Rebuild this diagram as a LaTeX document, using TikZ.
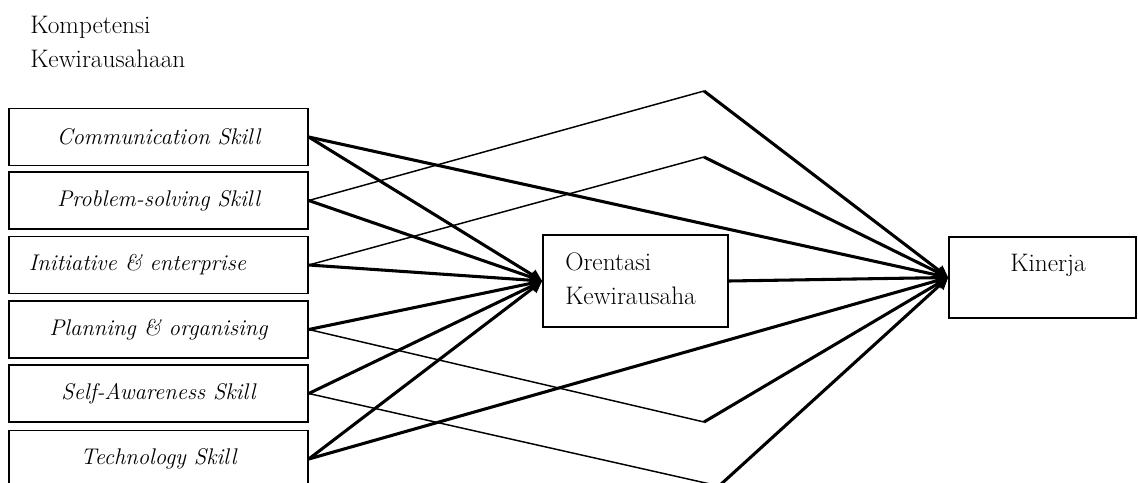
\documentclass[tikz,border=0pt]{standalone}
\usetikzlibrary{arrows.meta}
\begin{document}
\begin{tikzpicture}[x=0.75pt,y=-0.75pt,
  txt/.style={font=\fontsize{19}{25.5}\selectfont},
  skillbox/.style={draw,line width=1.1pt,minimum width=224.25pt,minimum height=42.75pt,inner sep=0pt,font=\fontsize{17}{20}\selectfont\itshape},
  heavy/.style={line width=2.3pt},
  light/.style={line width=1.1pt},
  arr/.style={heavy,-{Triangle[length=9pt,width=8.5pt]}}]
\useasboundingbox (0,0) rectangle (1138,482);
\node[txt,align=left,anchor=north west,inner sep=0pt] (title) at (30,16) {Kompetensi\\Kewirausahaan};
\node[skillbox] (s1) at (158.5,137) {Communication Skill};
\node[skillbox] (s2) at (158.5,200.5) {Problem-solving Skill};
\node[skillbox] (s3) at (158.5,265) {Initiative \& enterprise\hspace*{31.5pt}};
\node[skillbox] (s4) at (158.5,329.5) {Planning \& organising};
\node[skillbox] (s5) at (158.5,393.5) {Self-Awareness Skill};
\node[skillbox] (s6) at (158.5,459) {Technology Skill};
\node[draw,line width=1.1pt,minimum width=138.75pt,minimum height=69pt,inner sep=0pt] (o) at (635.5,281) {};
\node[txt,align=left,anchor=north west,inner sep=0pt] (otxt) at (565,253) {Orentasi\\Kewirausaha};
\node[draw,line width=1.1pt,minimum width=140.25pt,minimum height=60.75pt,inner sep=0pt] (k) at (1042.5,277.5) {};
\node[txt,inner sep=0pt,anchor=base] (ktxt) at (1048,271) {Kinerja};
\coordinate (b1) at (704,91);
\coordinate (b2) at (704,157);
\coordinate (b3) at (704,422);
\coordinate (b4) at (719,486);
% thin routes via bends
\draw[light] (s2.east) -- (b1);
\draw[light] (s3.east) -- (b2);
\draw[light] (s4.east) -- (b3);
\draw[light] (s5.east) -- (b4);
% to Orentasi
\foreach \s in {s1,s2,s3,s4,s5,s6} \draw[arr] (\s.east) -- (o.west);
% to Kinerja
\draw[arr] (s1.east) -- (k.west);
\draw[arr] (s6.east) -- (k.west);
\draw[arr] (b1) -- (k.west);
\draw[arr] (b2) -- (k.west);
\draw[arr] (b3) -- (k.west);
\draw[arr] (b4) -- (k.west);
\draw[arr] (o.east) -- (k.west);
\end{tikzpicture}
\end{document}
